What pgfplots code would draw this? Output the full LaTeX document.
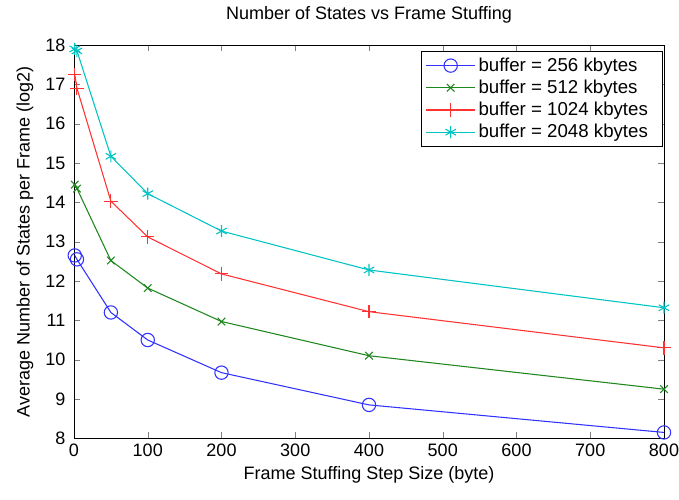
\documentclass[border=0pt]{standalone}
\usepackage{pgfplots}
\pgfplotsset{compat=1.18}
\usetikzlibrary{calc}
\usepackage{fontspec}
\setmainfont{Liberation Sans}
\definecolor{mblue}{RGB}{50,50,255}
\definecolor{mgreen}{RGB}{30,135,30}
\definecolor{mred}{RGB}{255,50,50}
\definecolor{mcyan}{RGB}{0,195,195}
\begin{document}
\begin{tikzpicture}
\begin{axis}[
  scale only axis,
  width=442.5pt, height=295pt,
  xmin=0, xmax=800, ymin=8, ymax=18,
  xtick={0,100,...,800}, ytick={8,9,...,18},
  tick align=inside, tick pos=both,
  major tick length=4.5pt,
  /pgf/number format/assume math mode=true,
  ticklabel style={font=\fontsize{13.5}{15}\selectfont},
  yticklabel style={xshift=-3pt},
  xticklabel style={yshift=-1pt},
  label style={font=\fontsize{13.5}{15}\selectfont},
  title style={font=\fontsize{13.5}{15}\selectfont, yshift=7pt},
  title={Number of States vs Frame Stuffing},
  xlabel={Frame Stuffing Step Size (byte)},
  ylabel={Average Number of States per Frame (log2)},
  ylabel style={yshift=2pt},
  clip=false,
  legend style={at={(0.998,0.985)}, anchor=north east, draw=black, font=\fontsize{14}{15.5}\selectfont, row sep=1pt, inner sep=3pt},
  legend cell align=left,
  legend image code/.code={\draw[mark repeat=2,mark phase=2] plot coordinates {(0cm,0cm)(0.65cm,0cm)(1.3cm,0cm)};},
  every axis plot/.append style={thick},
]
\addplot[color=mblue, mark=o, mark size=5pt, mark options={solid, draw=mblue}] coordinates {
 (1,12.65) (4,12.55) (50,11.2) (100,10.5) (200,9.67) (400,8.85) (800,8.15)};
\addlegendentry{buffer = 256 kbytes\hspace*{6pt}}
\addplot[color=mgreen, mark=x, mark size=4pt, mark options={solid, draw=mgreen}] coordinates {
 (1,14.45) (4,14.35) (50,12.52) (100,11.82) (200,10.97) (400,10.1) (800,9.25)};
\addlegendentry{buffer = 512 kbytes}
\addplot[color=mred, mark=+, mark size=5pt, mark options={solid, draw=mred}] coordinates {
 (1,17.25) (4,16.9) (50,14.03) (100,13.12) (200,12.18) (400,11.22) (800,10.3)};
\addlegendentry{buffer = 1024 kbytes\hspace*{6pt}}
\addplot[color=mcyan, mark=asterisk, mark size=4.5pt, mark options={solid, draw=mcyan}] coordinates {
 (1,17.9) (4,17.85) (50,15.17) (100,14.22) (200,13.27) (400,12.28) (800,11.32)};
\addlegendentry{buffer = 2048 kbytes}
\end{axis}
\pgfresetboundingbox
\path ($(current axis.south west)+(-55.5pt,-45.75pt)$) rectangle ($(current axis.north east)+(11.25pt,33.75pt)$);
\end{tikzpicture}
\end{document}
